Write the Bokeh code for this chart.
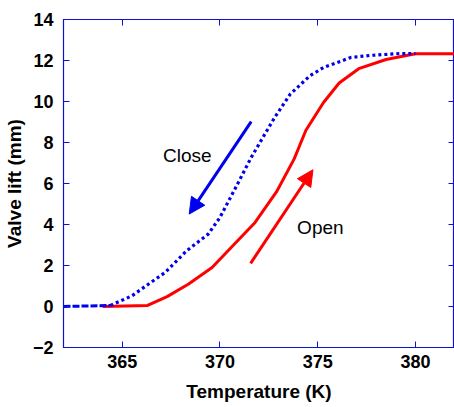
from bokeh.plotting import figure
from bokeh.models import (Range1d, LinearAxis, FixedTicker, Arrow, NormalHead,
                          Label, CustomLabelingPolicy)
from bokeh.embed import file_html
from bokeh.resources import INLINE

# Data
open_T = [364.0, 366.3, 367.3, 368.4, 369.6, 370.6, 371.8, 372.9, 373.8, 374.4, 375.3, 376.1, 377.1, 378.5, 380.0, 382.0]
open_lift = [0.0, 0.05, 0.48, 1.1, 1.9, 2.9, 4.1, 5.6, 7.2, 8.6, 9.95, 10.9, 11.6, 12.05, 12.33, 12.33]

close_flat_T = [362.0, 364.4]
close_flat_lift = [0.0, 0.05]
close_T = [364.4, 365.5, 366.3, 367.2, 368.3, 369.4, 370.0, 370.9, 371.6, 372.3, 372.8, 373.6, 374.6, 375.3, 376.2, 376.7, 377.7, 379.2, 380.0]
close_lift = [0.05, 0.52, 1.06, 1.66, 2.72, 3.53, 4.34, 5.97, 7.27, 8.41, 9.22, 10.36, 11.25, 11.66, 11.97, 12.15, 12.25, 12.34, 12.34]

x_ticks = [365, 370, 375, 380]
y_ticks = [-2, 0, 2, 4, 6, 8, 10, 12, 14]

AXIS_BLUE = "#1010d0"
BLUE = "#0000ee"
RED = "#ff0000"

p = figure(width=454, height=407, output_backend="svg", toolbar_location=None,
           x_range=Range1d(362, 382), y_range=Range1d(-2, 14),
           min_border_left=62, min_border_right=0, min_border_top=19, min_border_bottom=60,
           x_axis_label="Temperature (K)", y_axis_label="Valve lift (mm)")
p.grid.visible = False
p.outline_line_color = AXIS_BLUE
p.outline_line_width = 1.2
p.background_fill_color = "white"
p.border_fill_color = "white"

for ax in (p.xaxis[0], p.yaxis[0]):
    ax.axis_line_color = AXIS_BLUE
    ax.major_tick_line_color = AXIS_BLUE
    ax.major_tick_in = 6
    ax.major_tick_out = 0
    ax.minor_tick_line_color = None
    ax.major_label_text_font = "Liberation Sans"
    ax.major_label_text_font_style = "bold"
    ax.major_label_text_font_size = "18px"
    ax.major_label_text_color = "black"
    ax.axis_label_text_font = "Liberation Sans"
    ax.axis_label_text_font_style = "bold"
    ax.axis_label_text_font_size = "19px"
    ax.axis_label_text_color = "black"
p.xaxis[0].ticker = FixedTicker(ticks=x_ticks)
p.yaxis[0].ticker = FixedTicker(ticks=y_ticks)
p.xaxis[0].major_label_standoff = 7
p.xaxis[0].axis_label_standoff = 10
p.yaxis[0].major_label_standoff = 10
p.yaxis[0].axis_label_standoff = 5

# mirror axes (ticks only, labels suppressed)
hide_all = CustomLabelingPolicy(code="""
for (const i of indices)
    indices.unset(i)
""")
for loc, tk in (("right", y_ticks), ("above", x_ticks)):
    ax = LinearAxis(ticker=FixedTicker(ticks=tk), major_label_policy=hide_all)
    ax.axis_line_color = AXIS_BLUE
    ax.major_tick_line_color = AXIS_BLUE
    ax.major_tick_in = 6
    ax.major_tick_out = 0
    ax.minor_tick_line_color = None
    ax.major_label_text_font_size = "0px"
    ax.major_label_standoff = 0
    p.add_layout(ax, loc)

# curves
p.line(open_T, open_lift, line_color=RED, line_width=3)
p.line(close_flat_T, close_flat_lift, line_color=BLUE, line_width=3, line_dash="7 2")
p.line(close_T, close_lift, line_color=BLUE, line_width=3.2, line_dash="3 3")

# arrows
p.add_layout(Arrow(end=NormalHead(size=16, fill_color=BLUE, line_color=BLUE),
                   x_start=371.6, y_start=9.02, x_end=368.43, y_end=4.51,
                   line_color=BLUE, line_width=3))
p.add_layout(Arrow(end=NormalHead(size=16, fill_color=RED, line_color=RED),
                   x_start=371.57, y_start=2.1, x_end=374.76, y_end=6.67,
                   line_color=RED, line_width=3))

p.add_layout(Label(x=367.09, y=7.35, text="Close", text_font="Liberation Sans",
                   text_font_size="19px", text_color="black", text_baseline="alphabetic"))
p.add_layout(Label(x=373.95, y=3.85, text="Open", text_font="Liberation Sans",
                   text_font_size="19px", text_color="black", text_baseline="alphabetic"))

open("out.html", "w").write(file_html(p, INLINE))
